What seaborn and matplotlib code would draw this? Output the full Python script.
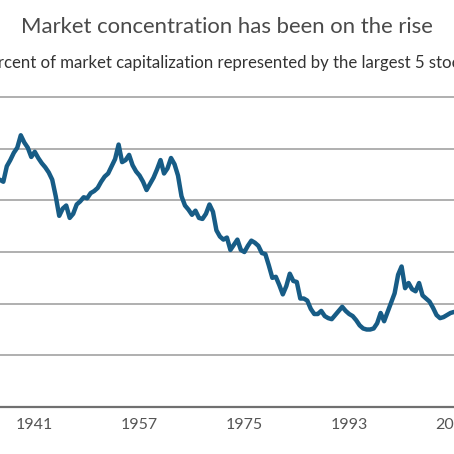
import numpy as np
import pandas as pd
import seaborn as sns
import matplotlib.pyplot as plt

# share of market cap held by the 5 largest stocks (%), evenly spaced samples
share = [22.0, 21.8, 23.3, 23.9, 24.6, 25.1, 26.3, 25.6, 25.1, 24.2,
         24.7, 24.1, 23.6, 23.2, 22.7, 22.0, 20.4, 18.5, 19.2, 19.5,
         18.3, 18.7, 19.6, 19.9, 20.3, 20.2, 20.7, 20.9, 21.2, 21.8,
         22.3, 22.6, 23.3, 24.0, 25.4, 23.7, 23.9, 24.4, 23.4, 22.8,
         22.4, 21.8, 21.0, 21.6, 22.2, 23.0, 23.9, 22.6, 23.1, 24.1,
         23.5, 22.4, 20.4, 19.5, 19.1, 18.6, 19.0, 18.3, 18.2, 18.7,
         19.6, 18.9, 17.1, 16.5, 16.2, 16.4, 15.2, 15.7, 16.2, 15.2,
         15.0, 15.6, 16.1, 15.9, 15.6, 14.9, 14.8, 13.7, 12.5, 12.6,
         11.8, 10.9, 11.7, 12.9, 12.2, 12.1, 10.5, 10.5, 10.3, 9.5,
         9.0, 9.0, 9.3, 8.8, 8.6, 8.5, 8.9, 9.3, 9.7, 9.3,
         9.0, 8.8, 8.4, 7.9, 7.6, 7.5, 7.5, 7.6, 8.1, 9.1,
         8.3, 9.2, 10.1, 11.0, 12.8, 13.6, 11.5, 12.0, 11.4, 11.2,
         12.0, 10.8, 10.5, 10.2, 9.6, 8.9, 8.6, 8.7, 8.9, 9.1,
         9.2]
tick_pos = [10, 40, 70, 100, 130]
tick_labels = ['1941', '1957', '1975', '1993', '2011']
grid_vals = [0, 5, 10, 15, 20, 25, 30]

df = pd.DataFrame({'t': np.arange(len(share)), 'share': share})

sns.set_style("white")
plt.rcParams['font.family'] = ['Lato', 'DejaVu Sans']

fig = plt.figure(figsize=(4.54, 4.54), dpi=100)
ax = fig.add_axes([0, 47 / 454, 1, 320.3 / 454])

for g in grid_vals[1:]:
    ax.axhline(g, color='#9a9a9a', lw=1.1, zorder=1)

sns.lineplot(data=df, x='t', y='share', ax=ax, color='#175c86', lw=3.2, zorder=3)

ax.set_xlim(0.05, 129.14)
ax.set_ylim(0, 31)
ax.set_xticks(tick_pos)
ax.set_xticklabels(tick_labels, fontsize=11.5, color='#555555')
ax.tick_params(axis='x', length=0, pad=8)
ax.set_yticks([])
ax.set_xlabel('')
ax.set_ylabel('')
for s in ['top', 'left', 'right']:
    ax.spines[s].set_visible(False)
ax.spines['bottom'].set_color('#707070')
ax.spines['bottom'].set_linewidth(1.6)

fig.text(0.5, 1 - 27 / 454, 'Market concentration has been on the rise',
         ha='center', va='center', fontsize=15.9, color='#4a4a4a')
fig.text(0.5, 1 - 63 / 454, 'Percent of market capitalization represented by the largest 5 stocks',
         ha='center', va='center', fontsize=12.1, color='#333333')

fig.savefig('out.png', dpi=100)
